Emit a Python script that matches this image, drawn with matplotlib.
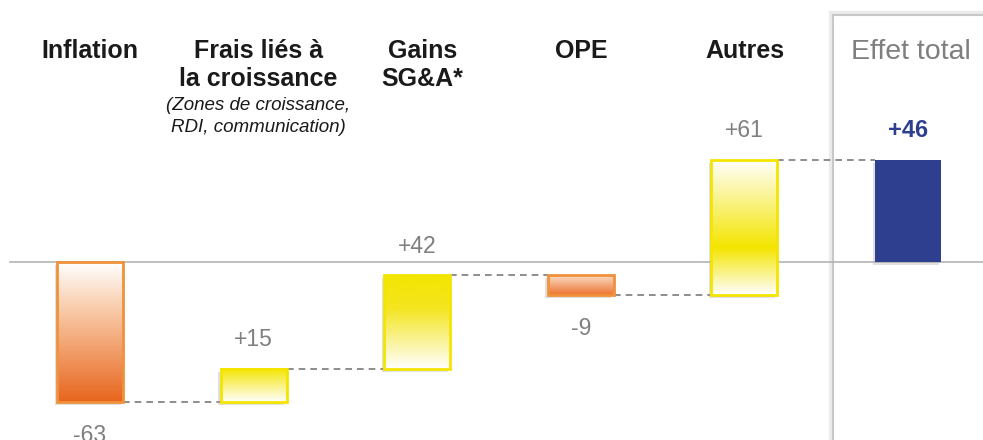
import numpy as np
import matplotlib.pyplot as plt
from matplotlib.patches import Rectangle
from matplotlib.colors import to_rgb

plt.rcParams['font.family'] = ['Liberation Sans', 'DejaVu Sans']

# waterfall data
labels = ["Inflation", "Frais liés à\nla croissance", "Gains\nSG&A*", "OPE", "Autres"]
sublabel = "(Zones de croissance,\nRDI, communication)"
deltas = [-63, 15, 42, -9, 61]
total = 46
total_label = "Effet total"

ORANGE = "#E8661E"
ORANGE_EDGE = "#F0923C"
YELLOW = "#F4E500"
NAVY = "#2E3F8F"
GREY_TXT = "#7F7F7F"

# gradient stops, top -> bottom
grads = [
    [(0, "#FFFFFF"), (0.35, "#F8C9A6"), (1, ORANGE)],
    [(0, YELLOW), (1, "#FFFFFF")],
    [(0, YELLOW), (0.35, "#F4E520"), (1, "#FFFFFF")],
    [(0, "#FBDCC6"), (1, "#EC7430")],
    [(0, "#FFFFFF"), (0.65, YELLOW), (1, "#FFFFFF")],
]
edges = [ORANGE_EDGE, YELLOW, YELLOW, ORANGE_EDGE, YELLOW]


def gradient(stops, n=200):
    pos = [s[0] for s in stops]
    cols = np.array([to_rgb(s[1]) for s in stops])
    t = np.linspace(0, 1, n)
    img = np.stack([np.interp(t, pos, cols[:, k]) for k in range(3)], axis=1)
    return img[:, None, :]


fig = plt.figure(figsize=(9.83, 4.40), dpi=100)
ax = fig.add_axes([0, 0, 1, 1])
ax.set_xlim(-0.55, 5.458)
ax.set_ylim(-80.2, 118)
ax.axis("off")

w = 0.403
sx, sy = 0.015, 1.4  # shadow offset

# baseline
ax.axhline(0, xmin=10 / 983, xmax=1, color="#B4B4B4", lw=1.2, zorder=1)

# total box with soft shadow
ax.add_patch(Rectangle((833 / 983 - 0.002, -0.1), 0.3, 1.1 - 15 / 440 + 0.004,
                       transform=ax.transAxes, fill=False, ec="#EBEBEB", lw=3, zorder=0))
ax.add_patch(Rectangle((833 / 983, -0.1), 0.3, 1.1 - 15 / 440,
                       transform=ax.transAxes, fill=False, ec="#C8C8C8", lw=1.5, zorder=0))

run = 0
for i, d in enumerate(deltas):
    lo, hi = min(run, run + d), max(run, run + d)
    ax.add_patch(Rectangle((i - w / 2 - sx, lo - sy), w, hi - lo, fc="#A8A8A8",
                           ec="none", alpha=0.35, zorder=2))
    ax.imshow(gradient(grads[i]), extent=(i - w / 2, i + w / 2, lo, hi),
              aspect="auto", zorder=3, interpolation="bilinear")
    ax.add_patch(Rectangle((i - w / 2, lo), w, hi - lo, fill=False,
                           ec=edges[i], lw=2, zorder=4))
    txt = f"{d:+d}"
    if d > 0:
        ax.text(i, hi + 8, txt, ha="center", va="bottom", fontsize=16.5, color=GREY_TXT)
    else:
        ax.text(i, lo - 10, txt, ha="center", va="top", fontsize=16.5, color=GREY_TXT)
    run += d
    # connector to next bar
    ax.plot([i + w / 2, i + 1 - w / 2], [run, run], color="#7A7A7A", lw=1.2,
            ls=(0, (4, 3)), zorder=2)

# total bar
n = len(deltas)
ax.add_patch(Rectangle((n - w / 2 - sx, -sy), w, total, fc="#A8A8A8", ec="none",
                       alpha=0.35, zorder=2))
ax.add_patch(Rectangle((n - w / 2, 0), w, total, fc=NAVY, ec="none", zorder=3))
ax.text(n, total + 8, f"+{total}", ha="center", va="bottom", fontsize=17,
        color=NAVY, fontweight="bold")

# category headers
for i, lab in enumerate(labels):
    ax.text(i + (0.03 if i in (1, 2) else 0), 100.5, lab, ha="center", va="top",
            fontsize=18, fontweight="bold", color="#1A1A1A", linespacing=1.2)
ax.text(1.03, 74.5, sublabel, ha="center", va="top", fontsize=13.5,
        style="italic", color="#1A1A1A", linespacing=1.45)
ax.text(n + 0.02, 100.5, total_label, ha="center", va="top", fontsize=20.5,
        color=GREY_TXT)

fig.savefig("out.png", dpi=100)
